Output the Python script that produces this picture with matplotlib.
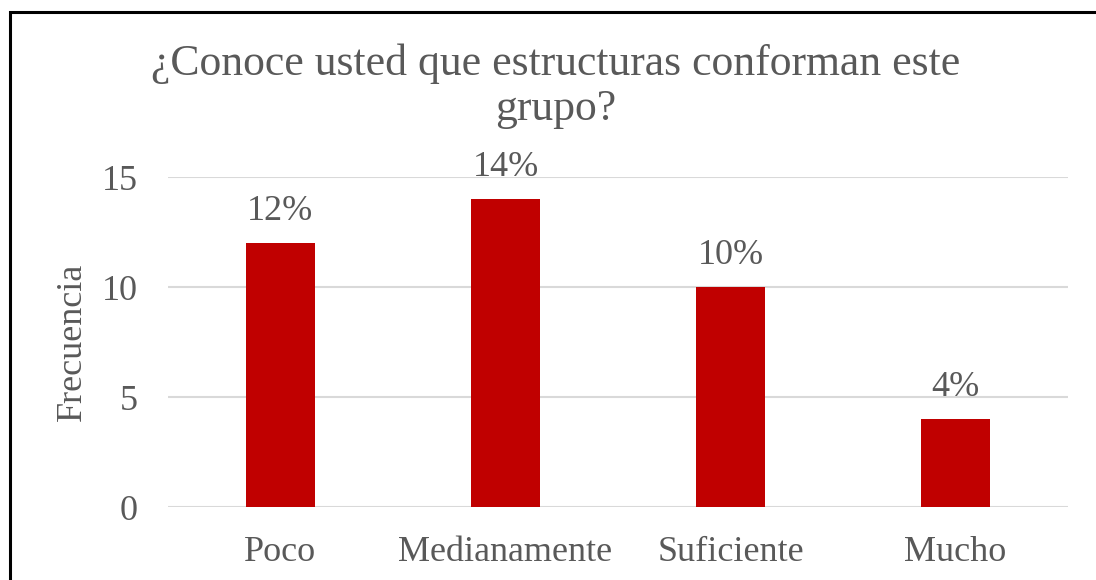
import matplotlib
matplotlib.use("Agg")
import matplotlib.pyplot as plt
from matplotlib.patches import Rectangle

categorias = ["Poco", "Medianamente", "Suficiente", "Mucho"]
frecuencia = [12, 14, 10, 4]
etiquetas = ["12%", "14%", "10%", "4%"]
titulo = "¿Conoce usted que estructuras conforman este\ngrupo?"

W, H = 1096, 580
gris = "#595959"
plt.rcParams["font.family"] = ["Liberation Serif", "DejaVu Serif"]

fig = plt.figure(figsize=(W / 100, H / 100), dpi=100)
ax = fig.add_axes([168 / W, 1 - 507 / H, 900 / W, 330 / H])

x = range(len(categorias))
ax.bar(x, frecuencia, width=0.31, color="#C00000", zorder=3)
for xi, v, lab in zip(x, frecuencia, etiquetas):
    ax.annotate(lab, (xi, v), xytext=(0, 11), textcoords="offset points",
                ha="center", va="bottom", fontsize=26, color=gris)

ax.set_xlim(-0.5, len(categorias) - 0.5)
ax.set_ylim(0, 15)
ax.set_yticks([0, 5, 10, 15])
ax.set_xticks(list(x))
ax.set_xticklabels(categorias)
ax.tick_params(axis="both", length=0, labelsize=26, colors=gris)
ax.tick_params(axis="x", pad=21)
ax.tick_params(axis="y", pad=22)
ax.yaxis.grid(True, color="#D9D9D9", linewidth=1.5, zorder=0)
for s in ax.spines.values():
    s.set_visible(False)
ax.set_ylabel("Frecuencia", fontsize=26, color=gris, labelpad=9)

fig.text(556 / W, 1 - 86 / H, titulo, ha="center", va="center",
         fontsize=31.5, color=gris, linespacing=1.15)

# marco del grafico
fig.patches.append(Rectangle((10 / W, -0.1), 1.2, 1 - 12 / H + 0.1,
                             transform=fig.transFigure, fill=False,
                             edgecolor="black", linewidth=2.2))

fig.savefig("out.png", dpi=100, facecolor="white")
